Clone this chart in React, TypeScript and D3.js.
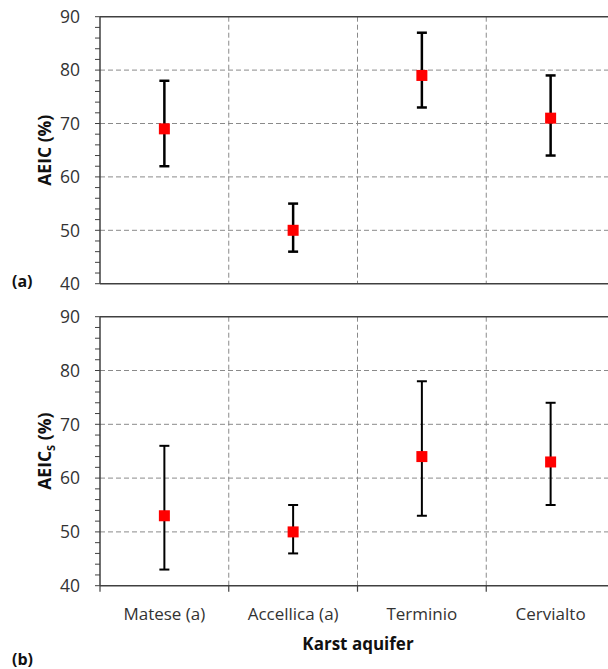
import React from "react";
import * as d3 from "d3";

const categories = ["Matese (a)", "Accellica (a)", "Terminio", "Cervialto"];
const aeicMean = [69, 50, 79, 71];
const aeicLow = [62, 46, 73, 64];
const aeicHigh = [78, 55, 87, 79];
const aeicsMean = [53, 50, 64, 63];
const aeicsLow = [43, 46, 53, 55];
const aeicsHigh = [66, 55, 78, 74];
const yTicks = [40, 50, 60, 70, 80, 90];
const yMinorTicks = d3.range(40, 91, 2);

const W = 608;
const H = 669;
const FONT = "'Open Sans', 'Liberation Sans', sans-serif";
const AXIS = "#404040";
const GRID = "#8a8a8a";

const x = d3.scaleBand<string>().domain(categories).range([100, 615]).padding(0);

type PanelProps = {
  top: number;
  bottom: number;
  mean: number[];
  low: number[];
  high: number[];
  label: string;
  showX: boolean;
  title: React.ReactNode;
  barWidth: number;
};

function Panel({ top, bottom, mean, low, high, label, showX, title, barWidth }: PanelProps) {
  const y = d3.scaleLinear().domain([40, 90]).range([bottom, top]);
  const x0 = x.range()[0];
  const x1 = x.range()[1];
  const bounds = categories.map((c) => x(c)!);
  const midY = (top + bottom) / 2;
  return (
    <g>
      {yTicks.filter((t) => t > 40 && t < 90).map((t) => (
        <line key={"hg" + t} x1={x0} x2={x1} y1={y(t)} y2={y(t)} stroke={GRID} strokeWidth={1} strokeDasharray="5,3" />
      ))}
      {bounds.slice(1).map((b, i) => (
        <line key={"vg" + i} x1={b} x2={b} y1={top} y2={bottom} stroke={GRID} strokeWidth={1} strokeDasharray="5,3" />
      ))}
      <line x1={x0} x2={x1} y1={top} y2={top} stroke={AXIS} strokeWidth={1.5} />
      <line x1={x0} x2={x1} y1={bottom} y2={bottom} stroke={AXIS} strokeWidth={1.5} />
      <line x1={x0} x2={x0} y1={top} y2={bottom} stroke={AXIS} strokeWidth={1.5} />
      {yMinorTicks.map((t) => (
        <line key={"yt" + t} x1={x0 - 5} x2={x0} y1={y(t)} y2={y(t)} stroke={AXIS} strokeWidth={1} />
      ))}
      {yTicks.map((t) => (
        <text key={"yl" + t} x={80} y={y(t)} dy="0.36em" textAnchor="end" fontFamily={FONT} fontSize={17.5} fill="#333">
          {t}
        </text>
      ))}
      {showX &&
        bounds.map((b, i) => (
          <line key={"xt" + i} x1={b} x2={b} y1={bottom} y2={bottom + 6} stroke={AXIS} strokeWidth={1.2} />
        ))}
      {showX &&
        categories.map((c) => (
          <text key={"xl" + c} x={x(c)! + x.bandwidth() / 2} y={620} textAnchor="middle" fontFamily={FONT} fontSize={17} fill="#333">
            {c}
          </text>
        ))}
      {categories.map((c, i) => {
        const cx = x(c)! + x.bandwidth() / 2;
        return (
          <g key={"eb" + c}>
            <line x1={cx} x2={cx} y1={y(low[i])} y2={y(high[i])} stroke="#000" strokeWidth={barWidth} />
            <line x1={cx - 5} x2={cx + 5} y1={y(low[i])} y2={y(low[i])} stroke="#000" strokeWidth={barWidth} />
            <line x1={cx - 5} x2={cx + 5} y1={y(high[i])} y2={y(high[i])} stroke="#000" strokeWidth={barWidth} />
            <rect x={cx - 5.5} y={y(mean[i]) - 5.5} width={11} height={11} fill="#ff0000" />
          </g>
        );
      })}
      <text
        transform={`translate(51, ${midY}) rotate(-90)`}
        textAnchor="middle"
        fontFamily={FONT}
        fontWeight="bold"
        fontSize={17.5}
        fill="#111"
      >
        {title}
      </text>
      <text x={12} y={label === "(a)" ? 287 : 665} fontFamily={FONT} fontWeight="bold" fontSize={16} fill="#111">
        {label}
      </text>
    </g>
  );
}

export default function App() {
  return (
    <svg width={W} height={H} style={{ position: "absolute", left: 0, top: 0, background: "#fff" }}>
      <rect width={W} height={H} fill="#fff" />
      <Panel
        top={16.7}
        bottom={283.7}
        mean={aeicMean}
        low={aeicLow}
        high={aeicHigh}
        label="(a)"
        showX={false}
        barWidth={2.5}
        title={<tspan>AEIC (%)</tspan>}
      />
      <Panel
        top={316.7}
        bottom={585.7}
        mean={aeicsMean}
        low={aeicsLow}
        high={aeicsHigh}
        label="(b)"
        showX={true}
        barWidth={2}
        title={
          <>
            <tspan>AEIC</tspan>
            <tspan fontSize={11} dy={4}>S</tspan>
            <tspan dy={-4}> (%)</tspan>
          </>
        }
      />
      <text x={358} y={650} textAnchor="middle" fontFamily={FONT} fontWeight="bold" fontSize={17} fill="#111">
        Karst aquifer
      </text>
    </svg>
  );
}
